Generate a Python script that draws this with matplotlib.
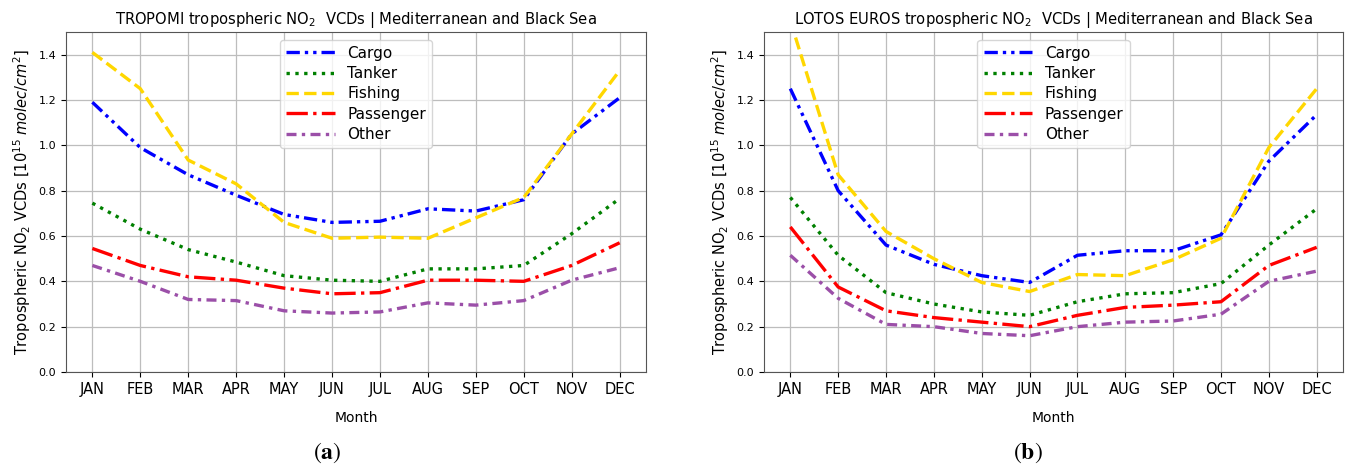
import numpy as np
import matplotlib
matplotlib.use("Agg")
import matplotlib.pyplot as plt

months = ["JAN", "FEB", "MAR", "APR", "MAY", "JUN", "JUL", "AUG", "SEP", "OCT", "NOV", "DEC"]
series = ["Cargo", "Tanker", "Fishing", "Passenger", "Other"]

# TROPOMI (a)
trop_cargo = [1.19, 0.99, 0.87, 0.78, 0.695, 0.66, 0.665, 0.72, 0.71, 0.76, 1.05, 1.21]
trop_tanker = [0.745, 0.63, 0.54, 0.485, 0.425, 0.405, 0.40, 0.455, 0.455, 0.47, 0.61, 0.765]
trop_fishing = [1.41, 1.25, 0.935, 0.83, 0.66, 0.59, 0.595, 0.59, 0.68, 0.77, 1.05, 1.33]
trop_passenger = [0.545, 0.47, 0.42, 0.405, 0.37, 0.345, 0.35, 0.405, 0.405, 0.40, 0.47, 0.57]
trop_other = [0.47, 0.40, 0.32, 0.315, 0.27, 0.26, 0.265, 0.305, 0.295, 0.315, 0.405, 0.46]

# LOTOS EUROS (b)
lotos_cargo = [1.25, 0.80, 0.56, 0.475, 0.425, 0.395, 0.515, 0.535, 0.535, 0.605, 0.93, 1.135]
lotos_tanker = [0.77, 0.515, 0.35, 0.30, 0.265, 0.25, 0.31, 0.345, 0.35, 0.39, 0.56, 0.72]
lotos_fishing = [1.55, 0.87, 0.62, 0.50, 0.395, 0.355, 0.43, 0.425, 0.495, 0.59, 0.99, 1.25]
lotos_passenger = [0.64, 0.375, 0.27, 0.24, 0.22, 0.20, 0.25, 0.285, 0.295, 0.31, 0.47, 0.55]
lotos_other = [0.515, 0.325, 0.21, 0.20, 0.17, 0.16, 0.20, 0.22, 0.225, 0.255, 0.40, 0.445]

colors = ["#0000ff", "#008000", "#ffd700", "#ff0000", "#9b4fa8"]
styles = [(0, (4, 1.5, 1, 1.5, 1, 1.5)), (0, (1, 1.65)), (0, (3.7, 1.6)),
          (0, (6.4, 1.6, 1, 1.6)), (0, (3, 1.6, 1, 1.6))]

ylab = r"Tropospheric NO$_2$ VCDs [$10^{15}$ $molec/cm^2$]"

fig = plt.figure(figsize=(13.47, 4.66), dpi=100)

def panel(rect, data, title, letter, letter_x):
    ax = fig.add_axes(rect)
    x = np.arange(len(months))
    for name, vals, c, ls in zip(series, data, colors, styles):
        ax.plot(x, vals, color=c, linestyle=ls, linewidth=2.4, label=name)
    ax.set_ylim(0, 1.5)
    ax.set_yticks(np.arange(0, 1.41, 0.2))
    ax.tick_params(axis="y", labelsize=8)
    ax.set_xticks(x)
    ax.set_xticklabels(months, fontsize=10.5)
    ax.grid(True, color="#bdbdbd", linewidth=0.9)
    ax.set_title(title, fontsize=10.6)
    ax.set_xlabel("Month", fontsize=10, labelpad=10)
    ax.set_ylabel(ylab, fontsize=10.5)
    for s in ax.spines.values():
        s.set_color("#555555")
    ax.legend(loc="upper center", fontsize=11, handlelength=3.2, borderpad=0.4,
              labelspacing=0.35)
    fig.text(letter_x, 0.015, r"$(\mathbf{" + letter + r"})$", fontsize=17,
             math_fontfamily="stix", ha="center")
    return ax

panel([66 / 1347, 94 / 466, 580 / 1347, 340 / 466],
      [trop_cargo, trop_tanker, trop_fishing, trop_passenger, trop_other],
      r"TROPOMI tropospheric NO$_2$  VCDs | Mediterranean and Black Sea", "a", 327 / 1347)
panel([764 / 1347, 94 / 466, 579 / 1347, 340 / 466],
      [lotos_cargo, lotos_tanker, lotos_fishing, lotos_passenger, lotos_other],
      r"LOTOS EUROS tropospheric NO$_2$  VCDs | Mediterranean and Black Sea", "b", 1028 / 1347)

fig.savefig("out.png", dpi=100)
